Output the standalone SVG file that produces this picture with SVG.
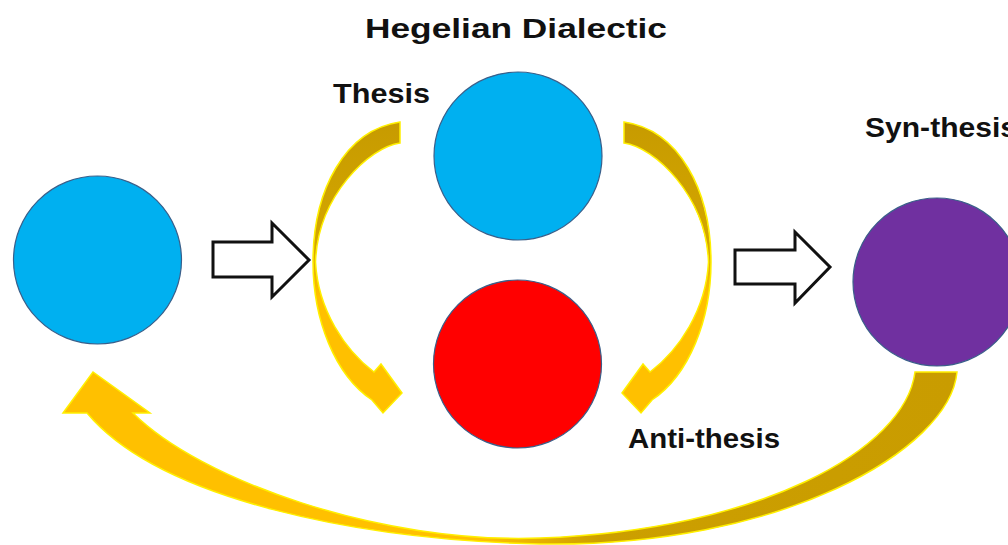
<svg xmlns="http://www.w3.org/2000/svg" width="1008" height="545" viewBox="0 0 1008 545">
  <defs>
    <linearGradient id="gV" x1="0" y1="0" x2="0" y2="1">
      <stop offset="0" stop-color="#C79B00"/>
      <stop offset="0.42" stop-color="#D4A600"/>
      <stop offset="0.6" stop-color="#FFC000"/>
      <stop offset="1" stop-color="#FFC000"/>
    </linearGradient>
    <linearGradient id="gH" x1="0" y1="0" x2="1" y2="0">
      <stop offset="0" stop-color="#FFC000"/>
      <stop offset="0.47" stop-color="#FFC000"/>
      <stop offset="0.6" stop-color="#CC9F00"/>
      <stop offset="1" stop-color="#C99C00"/>
    </linearGradient>
  </defs>
  <style>
    .lbl { font-family: "Liberation Sans", Arial, sans-serif; font-weight: bold; font-size: 28px; fill: #111; }
    .node { stroke: #3A5F8A; stroke-width: 1.2; }
    .curve { stroke: #FFF000; stroke-width: 1.5; stroke-linejoin: miter; }
    .block { fill: #fff; stroke: #111; stroke-width: 3; stroke-linejoin: miter; }
  </style>
  <rect width="1008" height="545" fill="#fff"/>

  <g id="connectors">
    <path id="cycle-left" class="curve" fill="url(#gV)" d="M400,122 L400,143 C370,147 318,195 315.5,262 C318,310 345,350 374,372 L381,364 L402,393 L383,413 L372,400 C335,375 313,320 313,262 C313,190 345,130 400,122 Z"/>
    <path id="cycle-right" class="curve" fill="url(#gV)" transform="translate(1024,0) scale(-1,1)" d="M400,122 L400,143 C370,147 318,195 315.5,262 C318,310 345,350 374,372 L381,364 L402,393 L383,413 L372,400 C335,375 313,320 313,262 C313,190 345,130 400,122 Z"/>
    <path id="return-arrow" class="curve" fill="url(#gH)" d="M957,372 L915,372 C905,450 760,530 540,538 C380,544 200,480 133,413 L150,413 L93,372 L63,413 L87,413 C160,500 360,540 540,544 C780,548 950,450 957,372 Z"/>
    <path id="step-1" class="block" d="M213,242 L272,242 L272,223 L309,260 L272,297 L272,277 L213,277 Z"/>
    <path id="step-2" class="block" d="M735,250 L795,250 L795,232 L830,267 L795,303 L795,284 L735,284 Z"/>
  </g>

  <g id="title">
    <text class="lbl" x="365" y="38" font-size="29" textLength="302" lengthAdjust="spacingAndGlyphs">Hegelian Dialectic</text>
  </g>
  <g id="start">
    <circle class="node" cx="97.5" cy="260" r="84" fill="#00B0F0"/>
  </g>
  <g id="thesis">
    <circle class="node" cx="518" cy="156" r="84" fill="#00B0F0"/>
    <text class="lbl" x="333" y="103" textLength="97" lengthAdjust="spacingAndGlyphs">Thesis</text>
  </g>
  <g id="antithesis">
    <circle class="node" cx="517.5" cy="364" r="84" fill="#FF0000"/>
    <text class="lbl" x="628" y="448" textLength="152" lengthAdjust="spacingAndGlyphs">Anti-thesis</text>
  </g>
  <g id="synthesis">
    <circle class="node" cx="937" cy="282" r="84" fill="#7030A0"/>
    <text class="lbl" x="865" y="137" textLength="152" lengthAdjust="spacingAndGlyphs">Syn-thesis</text>
  </g>
</svg>
